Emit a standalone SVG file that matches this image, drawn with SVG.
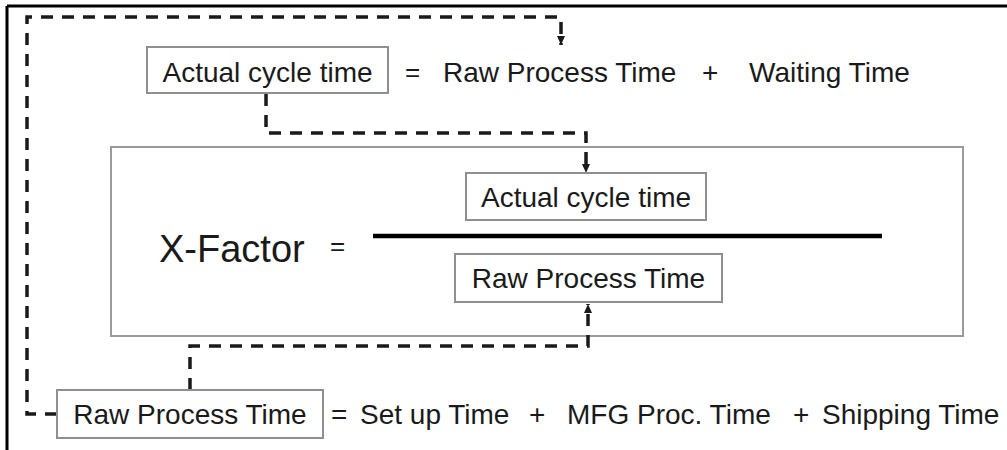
<svg xmlns="http://www.w3.org/2000/svg" width="1007" height="450" viewBox="0 0 1007 450">
<style>
  text { font-family: "Liberation Sans", Arial, sans-serif; fill: #1a1a1a; }
  .lbl { font-size: 28px; }
  .ctr { text-anchor: middle; }
  .box { fill: #ffffff; stroke: #8f8f8f; stroke-width: 2; }
  .frame { fill: none; stroke: #9a9a9a; stroke-width: 2; }
  .dash { fill: none; stroke: #1a1a1a; stroke-width: 3.5; stroke-dasharray: 12 9; }
</style>
<defs>
  <marker id="arr" markerUnits="userSpaceOnUse" markerWidth="10" markerHeight="10" refX="9" refY="4" orient="auto">
    <path d="M0,0 L9,4 L0,8 Z" fill="#1a1a1a"/>
  </marker>
</defs>
<rect width="1007" height="450" fill="#ffffff"/>
<g id="border">
  <line x1="7" y1="6" x2="1007" y2="6" stroke="#000" stroke-width="3"/>
  <line x1="7" y1="6" x2="7" y2="450" stroke="#000" stroke-width="3"/>
</g>
<g id="xfactor-frame">
  <rect class="frame" x="111" y="147" width="852" height="189"/>
  <text x="159" y="262" font-size="38">X-Factor</text>
  <text x="330" y="255" font-size="26">=</text>
  <line x1="373" y1="236" x2="882" y2="236" stroke="#000" stroke-width="4.5"/>
</g>
<g id="connectors">
  <path class="dash" d="M57,414 H27 V17 H561 V45" marker-end="url(#arr)"/>
  <path class="dash" d="M266,94 V133 H586 V173" marker-end="url(#arr)"/>
  <path class="dash" d="M190,390 V346 H588 V304" marker-end="url(#arr)"/>
</g>
<g id="node-actual-top">
  <rect class="box" x="147" y="47" width="241" height="46"/>
  <text class="lbl ctr" x="267.5" y="82">Actual cycle time</text>
</g>
<g id="eq-top">
  <text x="405" y="81" font-size="26">=</text>
  <text class="lbl" x="443" y="82">Raw Process Time</text>
  <text class="lbl" x="702" y="82">+</text>
  <text class="lbl" x="749" y="82">Waiting Time</text>
</g>
<g id="node-actual-inner">
  <rect class="box" x="466" y="173" width="240" height="47"/>
  <text class="lbl ctr" x="586" y="207">Actual cycle time</text>
</g>
<g id="node-raw-inner">
  <rect class="box" x="455" y="254" width="267" height="48"/>
  <text class="lbl ctr" x="588.5" y="288">Raw Process Time</text>
</g>
<g id="node-raw-bottom">
  <rect class="box" x="57" y="390" width="266" height="48"/>
  <text class="lbl ctr" x="190" y="424">Raw Process Time</text>
</g>
<g id="eq-bottom">
  <text class="lbl" x="331" y="424">=</text>
  <text class="lbl" x="360" y="424">Set up Time</text>
  <text class="lbl" x="529" y="424">+</text>
  <text class="lbl" x="567" y="424">MFG Proc. Time</text>
  <text class="lbl" x="793" y="424">+</text>
  <text class="lbl" x="822" y="424">Shipping Time</text>
</g>
</svg>
